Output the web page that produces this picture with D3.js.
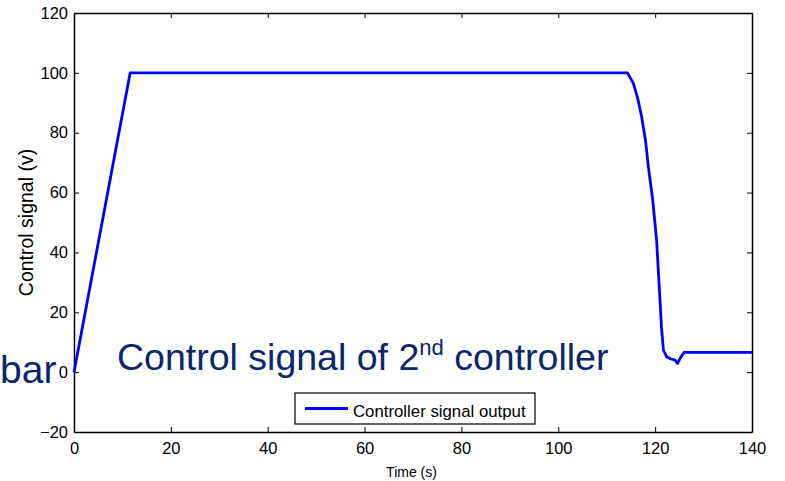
<!DOCTYPE html>
<html>
<head>
<meta charset="utf-8">
<script src="https://cdn.jsdelivr.net/npm/d3@7"></script>
<style>
html,body{margin:0;padding:0;background:#fff;}
svg{display:block;font-family:"Liberation Sans",Arial,sans-serif;}
</style>
</head>
<body>
<svg id="chart" width="785" height="481"></svg>
<script>
// Data
const timeValues = [0, 11.6, 20, 40, 60, 80, 100, 114.3, 115.5, 116.4, 117.2, 118.0, 118.6, 119.5, 120.3, 121.0, 121.3, 121.7, 122.4, 123.3, 124.1, 124.6, 125.3, 126.0, 130, 140];
const controlValues = [0, 100, 100, 100, 100, 100, 100, 100, 96.5, 91.5, 85.4, 77.5, 68.7, 57.5, 44.1, 24.1, 15.2, 7.4, 5.1, 4.4, 4.0, 2.9, 5.0, 6.6, 6.6, 6.6];
const xTicks = [0, 20, 40, 60, 80, 100, 120, 140];
const yTicks = [-20, 0, 20, 40, 60, 80, 100, 120];
const seriesName = "Controller signal output";

const svg = d3.select("#chart");
const L = 74, R = 752, T = 13, B = 432;
const x = d3.scaleLinear().domain([0, 140]).range([L, R]);
const y = d3.scaleLinear().domain([-20, 120]).range([B, T]);

// axes box with inward ticks (MATLAB style)
const tickLen = 5;
svg.append("g").attr("transform", `translate(0,${B})`)
  .call(d3.axisBottom(x).tickValues(xTicks).tickSizeInner(-tickLen).tickSizeOuter(0).tickPadding(10))
  .call(g => g.selectAll("text").attr("font-size", 16.5).attr("fill", "#000"));
svg.append("g").attr("transform", `translate(0,${T})`)
  .call(d3.axisTop(x).tickValues(xTicks).tickSizeInner(-tickLen).tickSizeOuter(0).tickFormat(""));
svg.append("g").attr("transform", `translate(${L},0)`)
  .call(d3.axisLeft(y).tickValues(yTicks).tickSizeInner(-tickLen).tickSizeOuter(0).tickPadding(6))
  .call(g => g.selectAll("text").attr("font-size", 16.5).attr("fill", "#000"));
svg.append("g").attr("transform", `translate(${R},0)`)
  .call(d3.axisRight(y).tickValues(yTicks).tickSizeInner(-tickLen).tickSizeOuter(0).tickFormat(""));
svg.selectAll(".domain").attr("stroke", "#000").attr("stroke-width", 1.5);
svg.selectAll(".tick line").attr("stroke", "#000");
svg.selectAll("g").attr("font-family", null);

// line
const line = d3.line().x((d, i) => x(timeValues[i])).y(d => y(d));
svg.append("path").datum(controlValues)
  .attr("d", line).attr("fill", "none").attr("stroke", "#0000ff").attr("stroke-width", 2.8)
  .attr("stroke-linejoin", "round");

// axis labels
svg.append("text").attr("x", 411.5).attr("y", 477).attr("text-anchor", "middle")
  .attr("font-size", 14).text("Time (s)");
svg.append("text").attr("transform", `translate(33,222.5) rotate(-90)`).attr("text-anchor", "middle")
  .attr("font-size", 19.5).text("Control signal (v)");

// legend
const lg = svg.append("g");
lg.append("rect").attr("x", 295).attr("y", 393).attr("width", 240).attr("height", 31)
  .attr("fill", "#fff").attr("stroke", "#000").attr("stroke-width", 1.2);
lg.append("line").attr("x1", 305).attr("x2", 348).attr("y1", 408.5).attr("y2", 408.5)
  .attr("stroke", "#0000ff").attr("stroke-width", 2.8);
lg.append("text").attr("x", 353).attr("y", 416.5).attr("font-size", 16.8).text(seriesName);

// overlay annotation texts
const navy = "#0b2669";
svg.append("text").attr("x", 0).attr("y", 383).attr("font-size", 39).attr("fill", navy).text("bar");
const t = svg.append("text").attr("x", 117).attr("y", 370).attr("font-size", 37.5).attr("fill", navy);
t.append("tspan").text("Control signal of 2");
t.append("tspan").attr("font-size", 22).attr("dy", -15).text("nd");
t.append("tspan").attr("dy", 15).text(" controller");
</script>
</body>
</html>
